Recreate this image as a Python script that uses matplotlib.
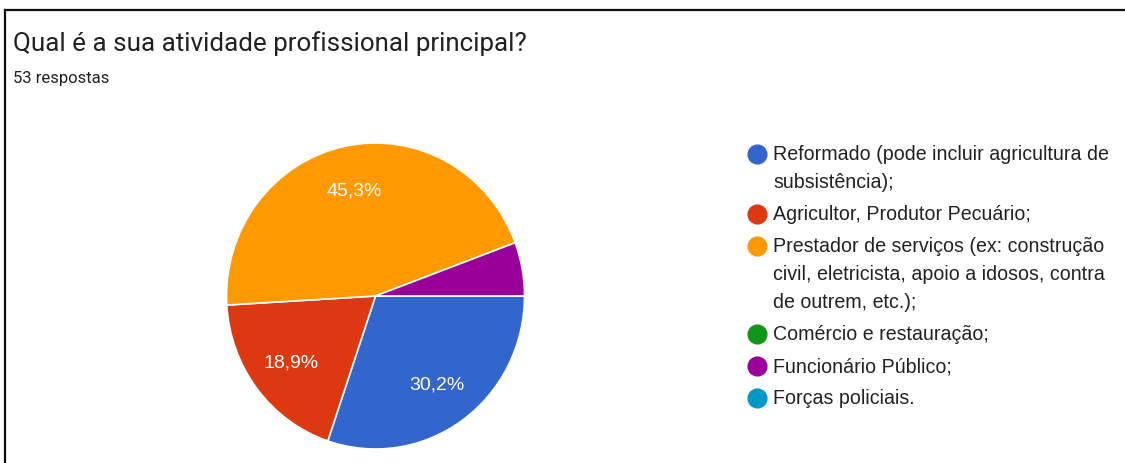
import matplotlib.pyplot as plt
from matplotlib.lines import Line2D

plt.rcParams['font.family'] = ['Roboto', 'DejaVu Sans']
LEG_FONT = ['Liberation Sans', 'DejaVu Sans']

W, H = 1125, 464

categories = [
    'Reformado (pode incluir agricultura de\nsubsistência);',
    'Agricultor, Produtor Pecuário;',
    'Prestador de serviços (ex: construção\ncivil, eletricista, apoio a idosos, contra\nde outrem, etc.);',
    'Comércio e restauração;',
    'Funcionário Público;',
    'Forças policiais.',
]
counts = [16, 10, 24, 0, 3, 0]
colors = ['#3366cc', '#dc3912', '#ff9900', '#109618', '#990099', '#0099c6']
total = sum(counts)


def px(x, y):
    return x / W, 1 - y / H


fig = plt.figure(figsize=(W / 100, H / 100), dpi=100)
fig.patch.set_facecolor('white')

# frame lines (top and left)
fig.add_artist(Line2D([5 / W, 1], [1 - 11 / H, 1 - 11 / H], color='#111111', lw=1.6))
fig.add_artist(Line2D([5 / W, 5 / W], [0, 1 - 11 / H], color='#111111', lw=1.6))

fig.text(*px(13, 44), 'Qual é a sua atividade profissional principal?',
         fontsize=18.7, color='#202124', va='center', ha='left')
fig.text(*px(13, 79), f'{total} respostas', fontsize=12, color='#202124',
         va='center', ha='left')

# pie
cx, cy, rx, ry = 375.5, 297, 149, 153
ax = fig.add_axes([(cx - rx) / W, (H - cy - ry) / H, 2 * rx / W, 2 * ry / H])
nz = [i for i, c in enumerate(counts) if c > 0]
wedges, _, autotexts = ax.pie(
    [counts[i] for i in nz], colors=[colors[i] for i in nz],
    startangle=0, counterclock=False, radius=1,
    autopct=lambda p: f'{p:.1f}%'.replace('.', ',') if p > 8 else '',
    pctdistance=0.71,
    wedgeprops=dict(edgecolor='white', linewidth=1.2),
    textprops=dict(color='white', fontsize=14, family=LEG_FONT))
ax.set_xlim(-1, 1)
ax.set_ylim(-1, 1)
ax.set_aspect('auto')
ax.axis('off')

# legend
y = 155
line_h, gap = 28, 32
for lab, col in zip(categories, colors):
    fig.add_artist(Line2D([757 / W], [1 - y / H], marker='o', markersize=13.5,
                          color=col, linestyle='none'))
    for k, line in enumerate(lab.split('\n')):
        fig.text(*px(773, y + k * line_h), line, fontsize=14.1, color='#222222',
                 va='center', ha='left', family=LEG_FONT)
    y += (lab.count('\n')) * line_h + gap

fig.savefig('out.png', dpi=100)
